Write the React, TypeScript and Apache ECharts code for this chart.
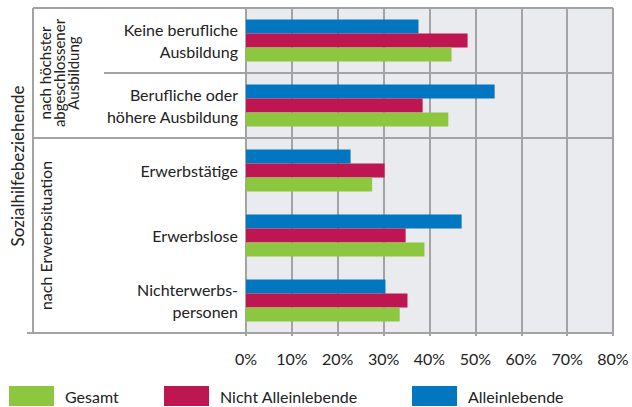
import React, { useEffect, useRef } from "react";
import * as echarts from "echarts";

const categories = [
  "Keine berufliche\nAusbildung",
  "Berufliche oder\nhöhere Ausbildung",
  "Erwerbstätige",
  "Erwerbslose",
  "Nichterwerbs-\npersonen",
];
const alleinlebende = [37.6, 54.2, 22.8, 47.0, 30.4];
const nichtAlleinlebende = [48.3, 38.5, 30.2, 34.8, 35.2];
const gesamt = [44.8, 44.1, 27.5, 38.9, 33.5];
const seriesNames = ["Gesamt", "Nicht Alleinlebende", "Alleinlebende"];
const xTicks = { min: 0, max: 80, interval: 10 };

const FONT = "Lato";
const GRID = { left: 246, right: 19, top: 8, bottom: 74 };
const W = 632;
const H = 407;
const LINE = "#A3A3A3";
const LEGEND_LEFT = [9, 164, 412];

export default function App() {
  const ref = useRef<HTMLDivElement>(null);
  useEffect(() => {
    if (!ref.current) return;
    const chart = echarts.init(ref.current, undefined, { renderer: "svg" });
    const plotTop = GRID.top;
    const plotBottom = H - GRID.bottom;
    const plotRight = W - GRID.right;
    const band = (plotBottom - plotTop) / categories.length;
    const y1 = plotTop + band;
    const y2 = plotTop + 2 * band;
    const lineStyle = { stroke: LINE, lineWidth: 2 };
    chart.setOption({
      animation: false,
      textStyle: { fontFamily: FONT },
      grid: {
        left: GRID.left,
        right: GRID.right,
        top: GRID.top,
        bottom: GRID.bottom,
        show: true,
        backgroundColor: "#E9EBEE",
        borderWidth: 0,
      },
      legend: seriesNames.map((name, i) => ({
        data: [name],
        left: LEGEND_LEFT[i],
        top: 386,
        padding: 0,
        itemWidth: 45,
        itemHeight: 20,
        icon: "rect",
        textStyle: {
          fontSize: 16,
          lineHeight: 20,
          color: "#222",
          fontFamily: FONT,
          padding: [0, 0, 0, 6],
        },
      })),
      xAxis: {
        type: "value",
        min: xTicks.min,
        max: xTicks.max,
        interval: xTicks.interval,
        axisLabel: {
          formatter: "{value}%",
          fontSize: 16,
          color: "#222",
          margin: 17,
          fontFamily: FONT,
        },
        axisLine: { show: true, lineStyle: { color: LINE, width: 2 } },
        axisTick: { show: true, length: 3, lineStyle: { color: LINE, width: 2 } },
        splitLine: { show: true, lineStyle: { color: LINE, width: 2 } },
      },
      yAxis: {
        type: "category",
        inverse: true,
        data: categories,
        axisLine: { show: true, lineStyle: { color: LINE, width: 2 } },
        axisTick: { show: false },
        axisLabel: {
          fontSize: 16,
          lineHeight: 22,
          color: "#222",
          margin: 8,
          align: "right",
          fontFamily: FONT,
        },
        splitLine: { show: false },
      },
      series: [
        {
          name: "Alleinlebende",
          type: "bar",
          data: alleinlebende,
          barWidth: 14,
          barGap: "0%",
          itemStyle: { color: "#0077C0" },
        },
        {
          name: "Nicht Alleinlebende",
          type: "bar",
          data: nichtAlleinlebende,
          barWidth: 14,
          barGap: "0%",
          itemStyle: { color: "#BE1650" },
        },
        {
          name: "Gesamt",
          type: "bar",
          data: gesamt,
          barWidth: 14,
          barGap: "0%",
          itemStyle: { color: "#8DC63F" },
        },
      ],
      graphic: [
        { type: "line", z: 1, shape: { x1: 33, y1: plotTop, x2: plotRight, y2: plotTop }, style: lineStyle },
        { type: "line", z: 1, shape: { x1: 104, y1: y1, x2: plotRight, y2: y1 }, style: lineStyle },
        { type: "line", z: 1, shape: { x1: 33, y1: y2, x2: plotRight, y2: y2 }, style: lineStyle },
        { type: "line", z: 1, shape: { x1: 27, y1: plotBottom, x2: plotRight, y2: plotBottom }, style: lineStyle },
        { type: "line", z: 1, shape: { x1: 33, y1: plotTop, x2: 33, y2: plotBottom }, style: lineStyle },
        {
          type: "text",
          x: 17,
          y: 166,
          rotation: Math.PI / 2,
          style: {
            text: "Sozialhilfebeziehende",
            fontSize: 17,
            fontFamily: FONT,
            fill: "#222",
            align: "center",
            verticalAlign: "middle",
          },
        },
        {
          type: "text",
          x: 59,
          y: (plotTop + y2) / 2,
          rotation: Math.PI / 2,
          style: {
            text: "nach höchster\nabgeschlossener\nAusbildung",
            fontSize: 15,
            lineHeight: 14,
            fontFamily: FONT,
            fill: "#222",
            align: "center",
            verticalAlign: "middle",
          },
        },
        {
          type: "text",
          x: 45,
          y: (y2 + plotBottom) / 2,
          rotation: Math.PI / 2,
          style: {
            text: "nach Erwerbsituation",
            fontSize: 16,
            fontFamily: FONT,
            fill: "#222",
            align: "center",
            verticalAlign: "middle",
          },
        },
      ],
    });
    return () => chart.dispose();
  }, []);
  return <div ref={ref} style={{ width: W, height: H, position: "absolute", left: 0, top: 0 }} />;
}
